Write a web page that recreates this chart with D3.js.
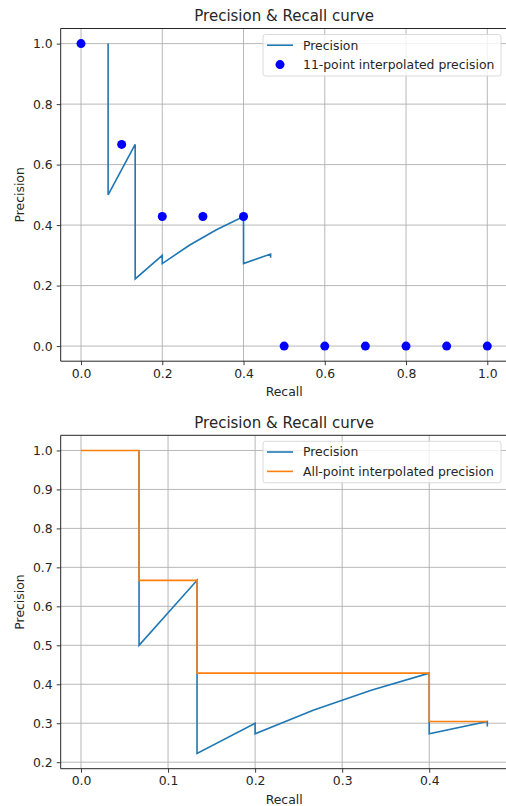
<!DOCTYPE html>
<html>
<head>
<meta charset="utf-8">
<title>precision recall</title>
<style>
  body { margin: 0; background: #fff; }
  text { font-family: "DejaVu Sans", sans-serif; fill: #262626; }
</style>
</head>
<body>
<svg width="506" height="806"></svg>
<script src="https://d3js.org/d3.v7.min.js"></script>
<script>

    // precision / recall per detection
    var recall = [0.0667, 0.0667, 0.1333, 0.1333, 0.1333, 0.1333, 0.1333, 0.1333, 0.1333,
        0.2, 0.2, 0.2667, 0.3333, 0.4, 0.4, 0.4, 0.4, 0.4, 0.4, 0.4, 0.4, 0.4, 0.4667, 0.4667];
    var precision = [1.0, 0.5, 0.6667, 0.5, 0.4, 0.3333, 0.2857, 0.25, 0.2222,
        0.3, 0.2727, 0.3333, 0.3846, 0.4286, 0.4, 0.375, 0.3529, 0.3333, 0.3158, 0.3, 0.2857, 0.2727, 0.3043, 0.2917];

    // 11-point interpolation
    var elevenRecall = [0.0, 0.1, 0.2, 0.3, 0.4, 0.5, 0.6, 0.7, 0.8, 0.9, 1.0];
    var elevenPrecision = [1.0, 0.6667, 0.4286, 0.4286, 0.4286, 0, 0, 0, 0, 0, 0];

    // all-point interpolation
    var allRecall = [0.0, 0.0667, 0.0667, 0.1333, 0.1333, 0.4, 0.4, 0.4667];
    var allPrecision = [1.0, 1.0, 0.6667, 0.6667, 0.4286, 0.4286, 0.3043, 0.3043];

    var topXTicks = [0, 0.2, 0.4, 0.6, 0.8, 1.0];
    var topYTicks = [0, 0.2, 0.4, 0.6, 0.8, 1.0];
    var botXTicks = [0, 0.1, 0.2, 0.3, 0.4];
    var botYTicks = [0.2, 0.3, 0.4, 0.5, 0.6, 0.7, 0.8, 0.9, 1.0];

    var blue = "#1f77b4", orange = "#ff7f0e";
    var svg = d3.select("svg");
    var fs = 12.4;

    function panel(opt) {
        var x = d3.scaleLinear().domain(opt.xd).range([opt.left, opt.right]);
        var y = d3.scaleLinear().domain(opt.yd).range([opt.bottom, opt.top]);
        var g = svg.append("g");

        // grid
        g.append("g").selectAll("line").data(opt.xt).join("line")
            .attr("x1", d => x(d)).attr("x2", d => x(d))
            .attr("y1", opt.top).attr("y2", opt.bottom)
            .attr("stroke", "#b0b0b0").attr("stroke-width", 0.9);
        g.append("g").selectAll("line").data(opt.yt).join("line")
            .attr("x1", opt.left).attr("x2", opt.right)
            .attr("y1", d => y(d)).attr("y2", d => y(d))
            .attr("stroke", "#b0b0b0").attr("stroke-width", 0.9);

        var line = d3.line().x(d => x(d[0])).y(d => y(d[1]));
        opt.lines.forEach(function (l) {
            g.append("path")
                .datum(d3.zip(l.xs, l.ys))
                .attr("fill", "none")
                .attr("stroke", l.color)
                .attr("stroke-width", 1.6)
                .attr("d", line);
        });
        if (opt.dots) {
            g.append("g").selectAll("circle").data(d3.zip(opt.dots.xs, opt.dots.ys)).join("circle")
                .attr("cx", d => x(d[0])).attr("cy", d => y(d[1]))
                .attr("r", 4.5).attr("fill", "#0000ff");
        }

        // axes
        var ax = g.append("g").attr("transform", "translate(0," + opt.bottom + ")")
            .call(d3.axisBottom(x).tickValues(opt.xt).tickFormat(d3.format(".1f")).tickSizeOuter(0).tickSize(4).tickPadding(4));
        var ay = g.append("g").attr("transform", "translate(" + opt.left + ",0)")
            .call(d3.axisLeft(y).tickValues(opt.yt).tickFormat(d3.format(".1f")).tickSizeOuter(0).tickSize(4).tickPadding(4));
        [ax, ay].forEach(function (a) {
            a.select(".domain").remove();
            a.selectAll("text").attr("font-size", fs).attr("font-family", "DejaVu Sans").attr("fill", "#262626");
            a.selectAll("line").attr("stroke", "#262626").attr("stroke-width", 0.9);
        });
        // spines
        g.append("path")
            .attr("d", "M" + opt.left + "," + opt.top + "H" + opt.right + "M" + opt.left + "," + opt.top + "V" + opt.bottom + "H" + opt.right)
            .attr("fill", "none").attr("stroke", "#262626").attr("stroke-width", 1);

        var cx = (opt.left + opt.right) / 2;
        g.append("text").attr("x", cx).attr("y", opt.top - 7.5)
            .attr("text-anchor", "middle").attr("font-size", 15).text("Precision & Recall curve");
        g.append("text").attr("x", cx).attr("y", opt.bottom + 35)
            .attr("text-anchor", "middle").attr("font-size", fs).text("Recall");
        g.append("text")
            .attr("transform", "translate(24," + ((opt.top + opt.bottom) / 2) + ") rotate(-90)")
            .attr("text-anchor", "middle").attr("font-size", fs).text("Precision");

        // legend
        var lg = g.append("g").attr("transform", "translate(263," + (opt.top + 6) + ")");
        lg.append("rect").attr("width", 238).attr("height", 41.5).attr("rx", 2.5)
            .attr("fill", "#fff").attr("fill-opacity", 0.8)
            .attr("stroke", "#d6d6d6").attr("stroke-width", 0.9);
        opt.legend.forEach(function (it, i) {
            var cy = 10.7 + i * 19.4;
            if (it.dot) {
                lg.append("circle").attr("cx", 17).attr("cy", cy).attr("r", 4.5).attr("fill", "#0000ff");
            } else {
                lg.append("line").attr("x1", 4).attr("x2", 30).attr("y1", cy).attr("y2", cy)
                    .attr("stroke", it.color).attr("stroke-width", 1.6);
            }
            lg.append("text").attr("x", 40).attr("y", cy).attr("dy", "0.36em")
                .attr("font-size", fs).text(it.label);
        });
    }

    panel({
        left: 60.7, right: 507.6, top: 28.5, bottom: 361.2,
        xd: [-0.05, 1.05], yd: [-0.05, 1.05],
        xt: topXTicks, yt: topYTicks,
        lines: [{ xs: recall, ys: precision, color: blue }],
        dots: { xs: elevenRecall, ys: elevenPrecision },
        legend: [{ label: "Precision", color: blue }, { label: "11-point interpolated precision", dot: true }]
    });

    panel({
        left: 60.7, right: 507.6, top: 435.3, bottom: 768.7,
        xd: [-0.0233, 0.49], yd: [0.1833, 1.0389],
        xt: botXTicks, yt: botYTicks,
        lines: [{ xs: recall, ys: precision, color: blue }, { xs: allRecall, ys: allPrecision, color: orange }],
        legend: [{ label: "Precision", color: blue }, { label: "All-point interpolated precision", color: orange }]
    });

</script>
</body>
</html>
